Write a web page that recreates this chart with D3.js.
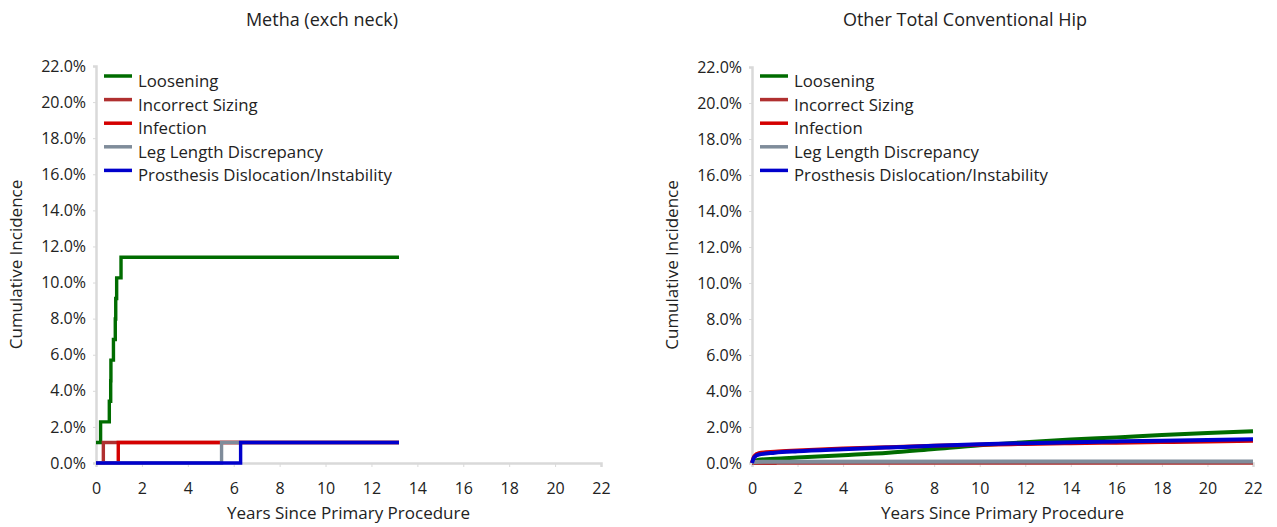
<!DOCTYPE html>
<html>
<head>
<meta charset="utf-8">
<script src="https://cdn.jsdelivr.net/npm/d3@7"></script>
<style>
  body { margin: 0; background: #fff; }
  svg text { font-family: "Open Sans", "Noto Sans", sans-serif; fill: #222; }
</style>
</head>
<body>
<div id="chart"></div>
<script>
// series names / colours, same order in both panels
var seriesNames = ["Loosening", "Incorrect Sizing", "Infection", "Leg Length Discrepancy", "Prosthesis Dislocation/Instability"];
var seriesColors = ["#006c00", "#b03030", "#d40000", "#7f8c9a", "#0000cc"];

var xTicks = [0, 2, 4, 6, 8, 10, 12, 14, 16, 18, 20, 22];
var yTicks = [0, 2, 4, 6, 8, 10, 12, 14, 16, 18, 20, 22];

// Metha (exch neck) - step curves, [years, cumulative %]
var methaLoosening = [[0, 1.14], [0.2, 2.28], [0.58, 3.42], [0.64, 4.56], [0.65, 5.7], [0.76, 6.84], [0.84, 7.98], [0.86, 9.12], [0.9, 10.26], [1.09, 11.4], [13.2, 11.4]];
var methaSizing = [[0, 0], [0.32, 1.14], [13.2, 1.14]];
var methaInfection = [[0, 0], [0.97, 1.14], [13.2, 1.14]];
var methaLegLength = [[0, 0], [5.47, 1.14], [13.2, 1.14]];
var methaDislocation = [[0, 0], [6.3, 1.14], [13.2, 1.14]];

// Other Total Conventional Hip
var otherLoosening = [[0, 0], [0.1, 0.1], [0.3, 0.18], [1, 0.24], [2, 0.3], [4, 0.43], [6, 0.57], [8, 0.78], [10, 0.99], [12, 1.15], [14, 1.3], [16, 1.42], [18, 1.55], [20, 1.66], [22, 1.76]];
var otherSizing = [[0, 0], [1, 0], [1.1, 0.01], [22, 0.02]];
var otherInfection = [[0, 0], [0.1, 0.38], [0.3, 0.54], [1, 0.62], [2, 0.69], [4, 0.8], [6, 0.88], [8, 0.96], [10, 1.02], [12, 1.06], [14, 1.1], [16, 1.13], [18, 1.16], [20, 1.19], [22, 1.23]];
var otherLegLength = [[0, 0], [0.1, 0.05], [0.5, 0.07], [22, 0.08]];
var otherDislocation = [[0, 0], [0.1, 0.32], [0.3, 0.47], [1, 0.57], [2, 0.65], [4, 0.76], [6, 0.86], [8, 0.96], [10, 1.04], [12, 1.1], [14, 1.15], [16, 1.2], [18, 1.24], [20, 1.28], [22, 1.32]];

var W = 1277, H = 527;

var svg = d3.select("#chart").append("svg")
    .attr("width", W)
    .attr("height", H);

var panels = [
  { title: "Metha (exch neck)", titleX: 322, left: 96, right: 601, top: 66, bottom: 463,
    curve: d3.curveStepAfter, lineWidth: 3.4,
    series: [methaLoosening, methaSizing, methaInfection, methaLegLength, methaDislocation] },
  { title: "Other Total Conventional Hip", titleX: 965, left: 752, right: 1253, top: 67, bottom: 463,
    curve: d3.curveMonotoneX, lineWidth: 4,
    series: [otherLoosening, otherSizing, otherInfection, otherLegLength, otherDislocation] }
];

const drawPanel = (p) => {
  var x = d3.scaleLinear().domain([0, 22]).range([p.left, p.right]);
  var y = d3.scaleLinear().domain([0, 22]).range([p.bottom, p.top]);

  svg.append("text")
      .attr("x", p.titleX)
      .attr("y", 26)
      .attr("text-anchor", "middle")
      .style("font-size", "18px")
      .text(p.title);

  var xAxis = d3.axisBottom(x)
      .tickValues(xTicks)
      .tickSize(4)
      .tickPadding(13)
      .tickFormat(d3.format("d"));
  var yAxis = d3.axisLeft(y)
      .tickValues(yTicks)
      .tickSize(3)
      .tickPadding(7)
      .tickFormat((d) => d.toFixed(1) + "%");

  var gx = svg.append("g")
      .attr("transform", "translate(0," + p.bottom + ")")
      .call(xAxis);
  var gy = svg.append("g")
      .attr("transform", "translate(" + p.left + ",0)")
      .call(yAxis);

  [gx, gy].forEach((g) => {
    g.select(".domain").attr("stroke", "#d9d9d9").attr("stroke-width", 2.5);
    g.selectAll(".tick line").attr("stroke", "#d9d9d9");
    g.selectAll(".tick text")
        .style("font-size", "16px")
        .style("font-family", "'Open Sans', sans-serif")
        .attr("fill", "#222");
  });
  gx.selectAll(".tick text").attr("dy", "0.9em");

  svg.append("text")
      .attr("x", (p.left + p.right) / 2)
      .attr("y", 519)
      .attr("text-anchor", "middle")
      .style("font-size", "17px")
      .text("Years Since Primary Procedure");

  svg.append("text")
      .attr("transform", "translate(" + (p.left - 74) + "," + ((p.top + p.bottom) / 2) + ") rotate(-90)")
      .attr("text-anchor", "middle")
      .style("font-size", "17px")
      .text("Cumulative Incidence");

  var line = d3.line()
      .curve(p.curve)
      .x((d) => x(d[0]))
      .y((d) => y(d[1]));

  svg.append("g").selectAll("path")
      .data(p.series)
    .enter().append("path")
      .attr("d", line)
      .attr("fill", "none")
      .attr("stroke", (d, i) => seriesColors[i])
      .attr("stroke-width", p.lineWidth);

  // legend
  var legend = svg.append("g")
      .attr("transform", "translate(" + (p.left + 8) + ",76)");
  var rows = legend.selectAll("g")
      .data(seriesNames)
    .enter().append("g")
      .attr("transform", (d, i) => "translate(0," + (i * 23.6) + ")");
  rows.append("line")
      .attr("x1", 0).attr("x2", 28)
      .attr("stroke", (d, i) => seriesColors[i])
      .attr("stroke-width", 3.5);
  rows.append("text")
      .attr("x", 34)
      .attr("y", 11)
      .style("font-size", "16.8px")
      .text((d) => d);
};

panels.forEach(drawPanel);
</script>
</body>
</html>
